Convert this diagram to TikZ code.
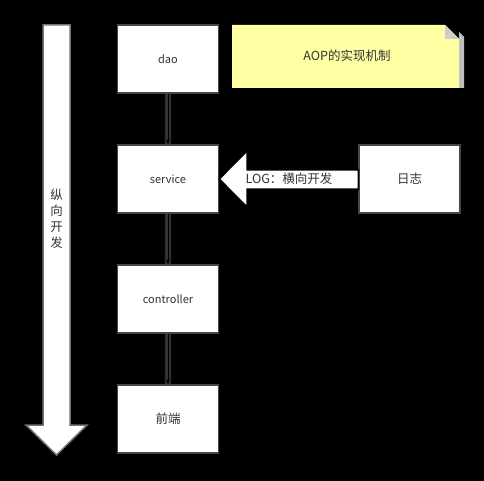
\documentclass[tikz,border=0pt]{standalone}
\usepackage{fontspec}
\setmainfont{Noto Sans CJK SC}
\usetikzlibrary{positioning, arrows.meta}
\definecolor{noteYellow}{RGB}{255,255,163}
\definecolor{edgeGray}{RGB}{70,70,70}

\begin{document}
\begin{tikzpicture}[
    x=1pt, y=-1pt,
    font=\fontsize{11}{16}\selectfont,
    node distance=50.5pt,
    layer/.style={draw=edgeGray, line width=1.5pt, fill=white, text=black!80,
                  minimum width=101pt, minimum height=68pt, inner sep=0pt},
    cjk/.style={font=\fontsize{12.5}{16}\selectfont},
    halo/.style={line width=6pt, black!80},
    link/.style={-{Stealth[length=5pt]}, line width=1pt, black},
    bigarrow/.style={fill=white, draw=black!55, line width=1.5pt, line join=miter},
  ]
    \fill[black] (0,0) rectangle (484,481);
    % layers
    \node[layer] (dao) at (168,59) {dao};
    \node[layer, below=of dao] (service) {service};
    \node[layer, below=of service] (ctrl) {controller};
    \node[layer, cjk, below=of ctrl] (front) {前端};
    \draw[halo] (dao) -- (service);
    \draw[halo] (service) -- (ctrl);
    \draw[halo] (ctrl) -- (front);
    \draw[link] (dao) -- (service);
    \draw[link] (service) -- (ctrl);
    \draw[link] (ctrl) -- (front);
    % note
    \fill[black!25] (459,32) -- (464,37) -- (464,88) -- (459,88) -- cycle;
    \fill[noteYellow] (232,25) -- (445,25) -- (459,39) -- (459,88) -- (232,88) -- cycle;
    \fill[black!20] (445,25) -- (459,39) -- (445,39) -- cycle;
    \node[cjk, text=black!80] (note) at (347,56) {AOP的实现机制};
    % vertical arrow
    \draw[bigarrow] (43,25) -- (70,25) -- (70,425) -- (87,425) -- (56.5,455)
      -- (26,425) -- (43,425) -- cycle;
    \node[cjk, align=center, inner sep=0pt, text=black!80] (vtext) at (56.5,219) {纵\\向\\开\\发};
    % horizontal arrow
    \node[layer, cjk] (log) at (409.5,179) {日志};
    \draw[bigarrow, draw=black] (service.east) -- (247,151) -- (247,170) -- (log.west |- 0,170)
      -- (log.west |- 0,189) -- (247,189) -- (247,207) -- cycle;
    \node[cjk, text=black!80] (logtext) at (289,179) {LOG：横向开发};
\end{tikzpicture}
\end{document}
